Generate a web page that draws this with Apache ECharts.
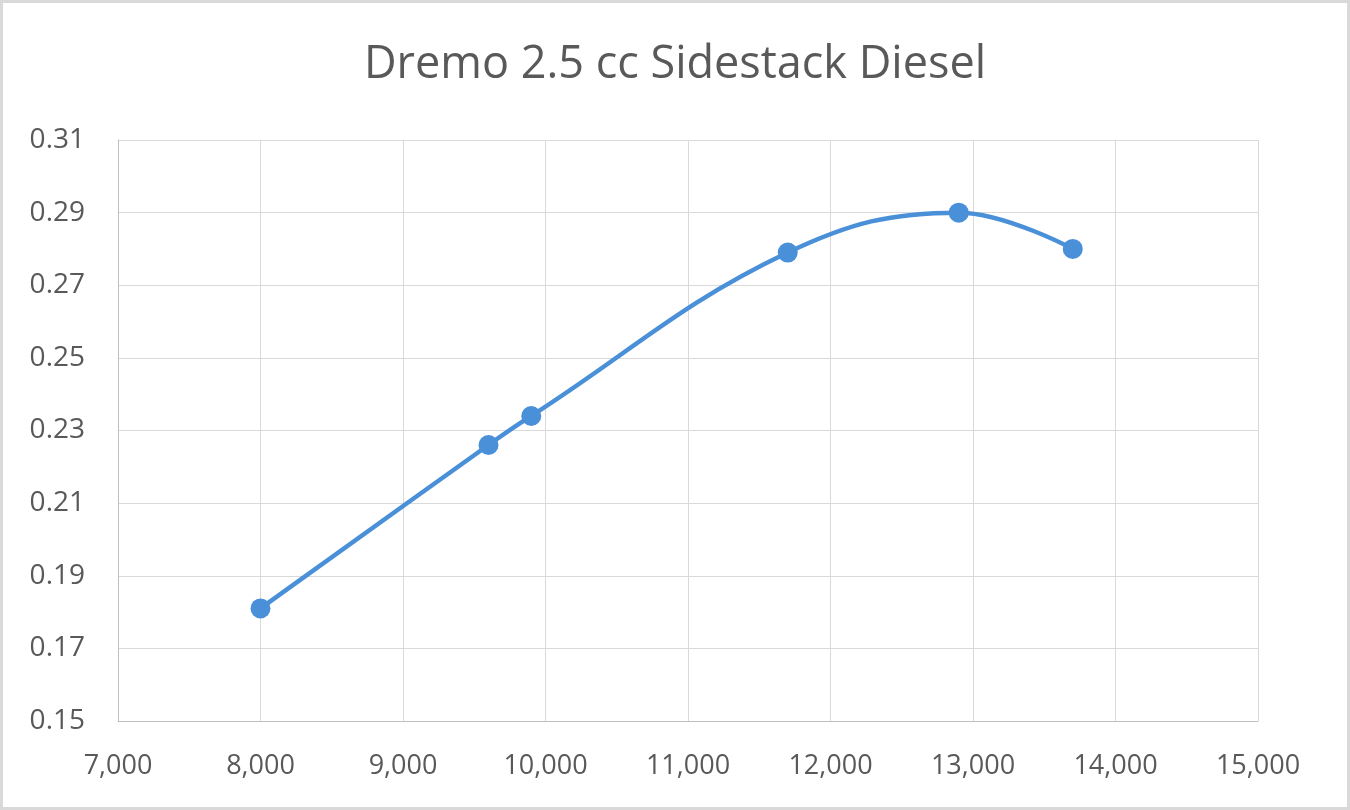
<!DOCTYPE html>
<html>
<head>
<meta charset="utf-8">
<script src="https://cdn.jsdelivr.net/npm/echarts@6/dist/echarts.min.js"></script>
<style>
html,body{margin:0;padding:0;background:#fff;}
#wrap{width:1350px;height:810px;box-sizing:border-box;border:3px solid #d9d9d9;position:relative;}
#chart{position:absolute;left:-3px;top:-3px;width:1350px;height:810px;}
</style>
</head>
<body>
<div id="wrap"><div id="chart"></div></div>
<script>
const titleText = 'Dremo 2.5 cc Sidestack Diesel';
const rpm = [8000, 9600, 9900, 11700, 12900, 13700];
const values = [0.181, 0.226, 0.234, 0.279, 0.290, 0.280];

const chart = echarts.init(document.getElementById('chart'), null, {renderer: 'canvas'});
const font = '"Open Sans", "Noto Sans", sans-serif';
chart.setOption({
  animation: false,
  title: {
    text: titleText, left: 'center', top: 38,
    textStyle: {fontFamily: font, fontSize: 45, fontWeight: 'normal', color: '#595959'}
  },
  grid: {left: 118, right: 92, top: 140, bottom: 89, containLabel: false},
  xAxis: {
    type: 'value', min: 7000, max: 15000, interval: 1000,
    axisLine: {show: true, lineStyle: {color: '#bfbfbf', width: 1}},
    axisTick: {show: false},
    splitLine: {show: true, lineStyle: {color: '#d9d9d9', width: 1}},
    axisLabel: {
      fontFamily: font, fontSize: 27, color: '#595959', margin: 32,
      formatter: v => v.toLocaleString('en-US')
    }
  },
  yAxis: {
    type: 'value', min: 0.15, max: 0.31, interval: 0.02,
    axisLine: {show: true, lineStyle: {color: '#bfbfbf', width: 1}},
    axisTick: {show: false},
    splitLine: {show: true, lineStyle: {color: '#d9d9d9', width: 1}},
    axisLabel: {
      fontFamily: font, fontSize: 28, color: '#595959', margin: 33,
      formatter: v => v.toFixed(2)
    }
  },
  series: [{
    type: 'line',
    data: rpm.map((x, i) => [x, values[i]]),
    smooth: 0.4,
    symbol: 'circle', symbolSize: 20,
    lineStyle: {color: '#4a90d9', width: 4.5},
    itemStyle: {color: '#4a90d9'}
  }]
});
</script>
</body>
</html>
